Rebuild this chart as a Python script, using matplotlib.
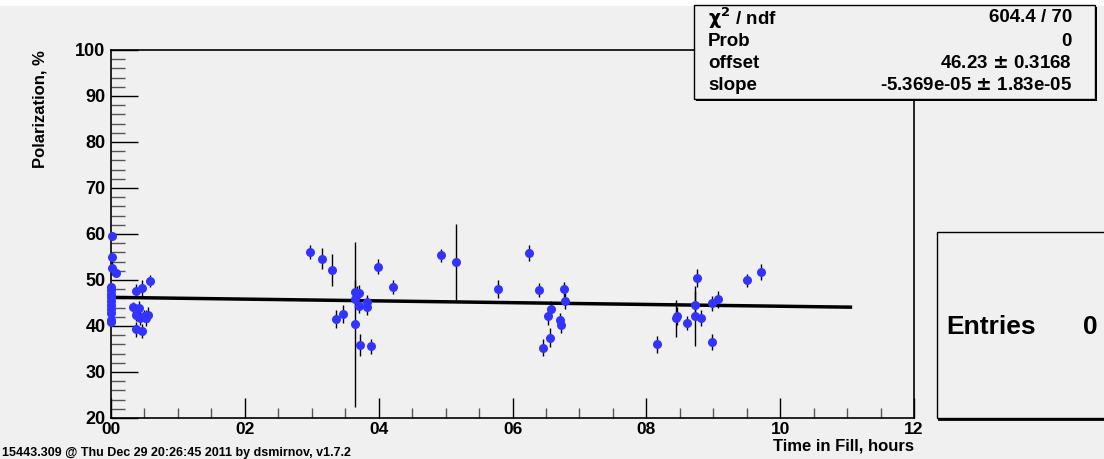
import matplotlib.pyplot as plt
import numpy as np
from matplotlib.patches import Rectangle
from matplotlib.ticker import MultipleLocator, FuncFormatter
from matplotlib.transforms import ScaledTranslation

# polarization measurements during the fill (time in hours, value and error in %)
hours = [0.01, 0.01, 0.02, 0.07,
         0.0, 0.0, 0.0, 0.0, 0.0, 0.0, 0.0, 0.0, 0.0, 0.0,
         0.38, 0.47, 0.58, 0.33, 0.42, 0.37, 0.44, 0.52, 0.55, 0.49, 0.37, 0.47,
         2.98, 3.16, 3.31, 3.36, 3.47, 3.64, 3.65, 3.68, 3.71, 3.65, 3.71, 3.72,
         3.88, 3.83, 3.82, 3.99, 4.22,
         4.93, 5.15, 5.79, 6.25, 6.39, 6.45, 6.56, 6.53, 6.58, 6.71, 6.72, 6.77, 6.78,
         8.16, 8.45, 8.46, 8.61, 8.75, 8.72, 8.72, 8.82, 8.98, 8.98, 9.07, 9.51, 9.71]
polar = [59.5, 54.9, 52.6, 51.6,
         48.5, 47.8, 47.0, 46.2, 45.4, 44.6, 43.8, 42.9, 41.2, 40.8,
         47.7, 48.2, 49.8, 44.1, 44.0, 42.5, 41.8, 41.8, 42.5, 42.2, 39.3, 38.9,
         56.0, 54.6, 52.2, 41.5, 42.6, 40.4, 47.5, 47.0, 47.2, 45.9, 44.4, 35.9,
         35.6, 45.3, 44.2, 52.9, 48.5,
         55.4, 53.9, 48.0, 55.9, 47.8, 35.3, 37.5, 42.1, 43.8, 41.2, 40.3, 48.0, 45.4,
         36.0, 41.7, 42.2, 40.7, 50.4, 44.6, 42.2, 41.7, 36.5, 44.9, 45.8, 49.9, 51.8]
errors = [0.8, 0.8, 1.5, 1.0,
          0.6, 0.6, 0.6, 0.6, 0.6, 0.6, 0.6, 0.6, 0.8, 0.8,
          1.5, 1.7, 1.3, 1.2, 1.4, 1.5, 1.5, 1.7, 1.6, 1.3, 1.6, 1.5,
          1.5, 2.3, 3.4, 1.9, 2.0, 17.9, 2.5, 1.6, 1.8, 2.0, 1.6, 2.4,
          1.6, 1.4, 1.8, 1.7, 1.6,
          1.4, 8.2, 2.0, 1.7, 1.5, 1.8, 2.0, 1.8, 1.6, 1.6, 1.8, 1.6, 1.8,
          1.9, 4.0, 2.0, 1.5, 2.0, 3.0, 6.6, 1.8, 1.7, 1.6, 1.8, 1.5, 1.7]

# linear fit p0 + p1*t (t in seconds)
offset = 46.23
offset_err = 0.3168
slope = -5.369e-05
slope_err = 1.83e-05
chi2, ndf = 604.4, 70
fit_end = 11.05  # hours

bg = '#f0f0f0'
blue = '#3333ff'
W, H = 1104, 459
sans = ['Liberation Sans', 'DejaVu Sans']
narrow = ['Liberation Sans Narrow', 'DejaVu Sans Condensed', 'Liberation Sans', 'DejaVu Sans']
plt.rcParams['mathtext.default'] = 'bf'

fig = plt.figure(figsize=(W / 100, H / 100), dpi=100, facecolor=bg)
ax = fig.add_axes([111 / W, 1 - 418 / H, (914 - 111) / W, (418 - 50) / H], facecolor=bg)

# white strip across the top of the canvas
fig.patches.append(Rectangle((0, 1 - 6 / H), 1, 6 / H, transform=fig.transFigure,
                             facecolor='white', edgecolor='none', zorder=0))

pts = ax.errorbar(hours, polar, yerr=errors, fmt='o', color=blue, markersize=6.5,
                  markeredgewidth=0, ecolor='black', elinewidth=1, capsize=2, capthick=1, zorder=3)
for art in pts.lines[0:1] + tuple(pts.lines[1]) + tuple(pts.lines[2]):
    art.set_clip_on(False)

t = np.array([0, fit_end])
ax.plot(t, offset + slope * t * 3600, color='black', lw=2.5, zorder=2)

ax.set_xlim(0, 12)
ax.set_ylim(20, 100)
ax.xaxis.set_major_locator(MultipleLocator(2))
ax.xaxis.set_minor_locator(MultipleLocator(0.5))
ax.yaxis.set_major_locator(MultipleLocator(10))
ax.yaxis.set_minor_locator(MultipleLocator(2))
ax.xaxis.set_major_formatter(FuncFormatter(lambda x, pos: '%02d' % x))

ax.tick_params(axis='y', which='major', direction='in', length=19.5, width=1, pad=4)
ax.tick_params(axis='y', which='minor', direction='in', length=10, width=1, color='#555555')
ax.tick_params(axis='x', which='major', direction='in', length=14.5, width=1, pad=3)
ax.tick_params(axis='x', which='minor', direction='in', length=7.5, width=1, color='#555555')
ax.tick_params(right=False, top=False, which='both')

for lab in ax.get_yticklabels():
    lab.set_fontweight('bold')
    lab.set_fontsize(13)
    lab.set_family(sans)
for lab in ax.get_xticklabels():
    lab.set_fontweight('bold')
    lab.set_fontsize(12.5)
    lab.set_family(narrow)

# nudge the first time label clear of the "20" at the corner
first = ax.xaxis.get_major_ticks()[0].label1
first.set_transform(first.get_transform() + ScaledTranslation(4 / 100, -2 / 100, fig.dpi_scale_trans))

for s in ax.spines.values():
    s.set_linewidth(1.2)
    s.set_color('black')

fig.text(40 / W, 1 - 50 / H, 'Polarization, %', rotation=90, ha='center', va='top',
         fontsize=12, fontweight='bold', family=sans)
fig.text(914 / W, 1 - 446 / H, 'Time in Fill, hours', ha='right', va='center',
         fontsize=12, fontweight='bold', family=sans)
fig.text(2 / W, 1 - 453 / H, '15443.309 @ Thu Dec 29 20:26:45 2011 by dsmirnov, v1.7.2',
         ha='left', va='center', fontsize=9, fontweight='bold', family=narrow)

# fit statistics box
def px_box(x0, y0, x1, y1, **kw):
    r = Rectangle((x0 / W, 1 - y1 / H), (x1 - x0) / W, (y1 - y0) / H,
                  transform=fig.transFigure, **kw)
    fig.patches.append(r)
    return r

px_box(696, 7, 1097, 101, facecolor='black', edgecolor='none', zorder=5)
px_box(694, 5, 1095, 99, facecolor=bg, edgecolor='black', lw=1, zorder=6)

rows = [(r'$\chi^{2}$ / ndf', '%.1f / %d' % (chi2, ndf)),
        ('Prob', '0'),
        ('offset', r'%.2f $\pm$ %.4f' % (offset, offset_err)),
        ('slope', r'%.3e $\pm$ %.2e' % (slope, slope_err))]
for (name, val), y in zip(rows, [18, 42, 64, 86]):
    fig.text(708 / W, 1 - y / H, name, ha='left', va='center', fontsize=13.5,
             fontweight='bold', family=sans, zorder=7)
    fig.text(1072 / W, 1 - y / H, val, ha='right', va='center', fontsize=13.5,
             fontweight='bold', family=sans, zorder=7)

# histogram entries box
px_box(937, 232, 1110, 418, facecolor=bg, edgecolor='black', lw=1, zorder=5)
fig.lines.append(plt.Line2D([939 / W, 1], [1 - 419 / H, 1 - 419 / H], transform=fig.transFigure,
                            color='black', lw=2, zorder=6))
fig.text(946 / W, 1 - 327 / H, 'Entries', ha='left', va='center', fontsize=19,
         fontweight='bold', family=sans, zorder=7)
fig.text(1098 / W, 1 - 327 / H, '0', ha='right', va='center', fontsize=19,
         fontweight='bold', family=sans, zorder=7)

fig.savefig('out.png', dpi=100, facecolor=bg)
